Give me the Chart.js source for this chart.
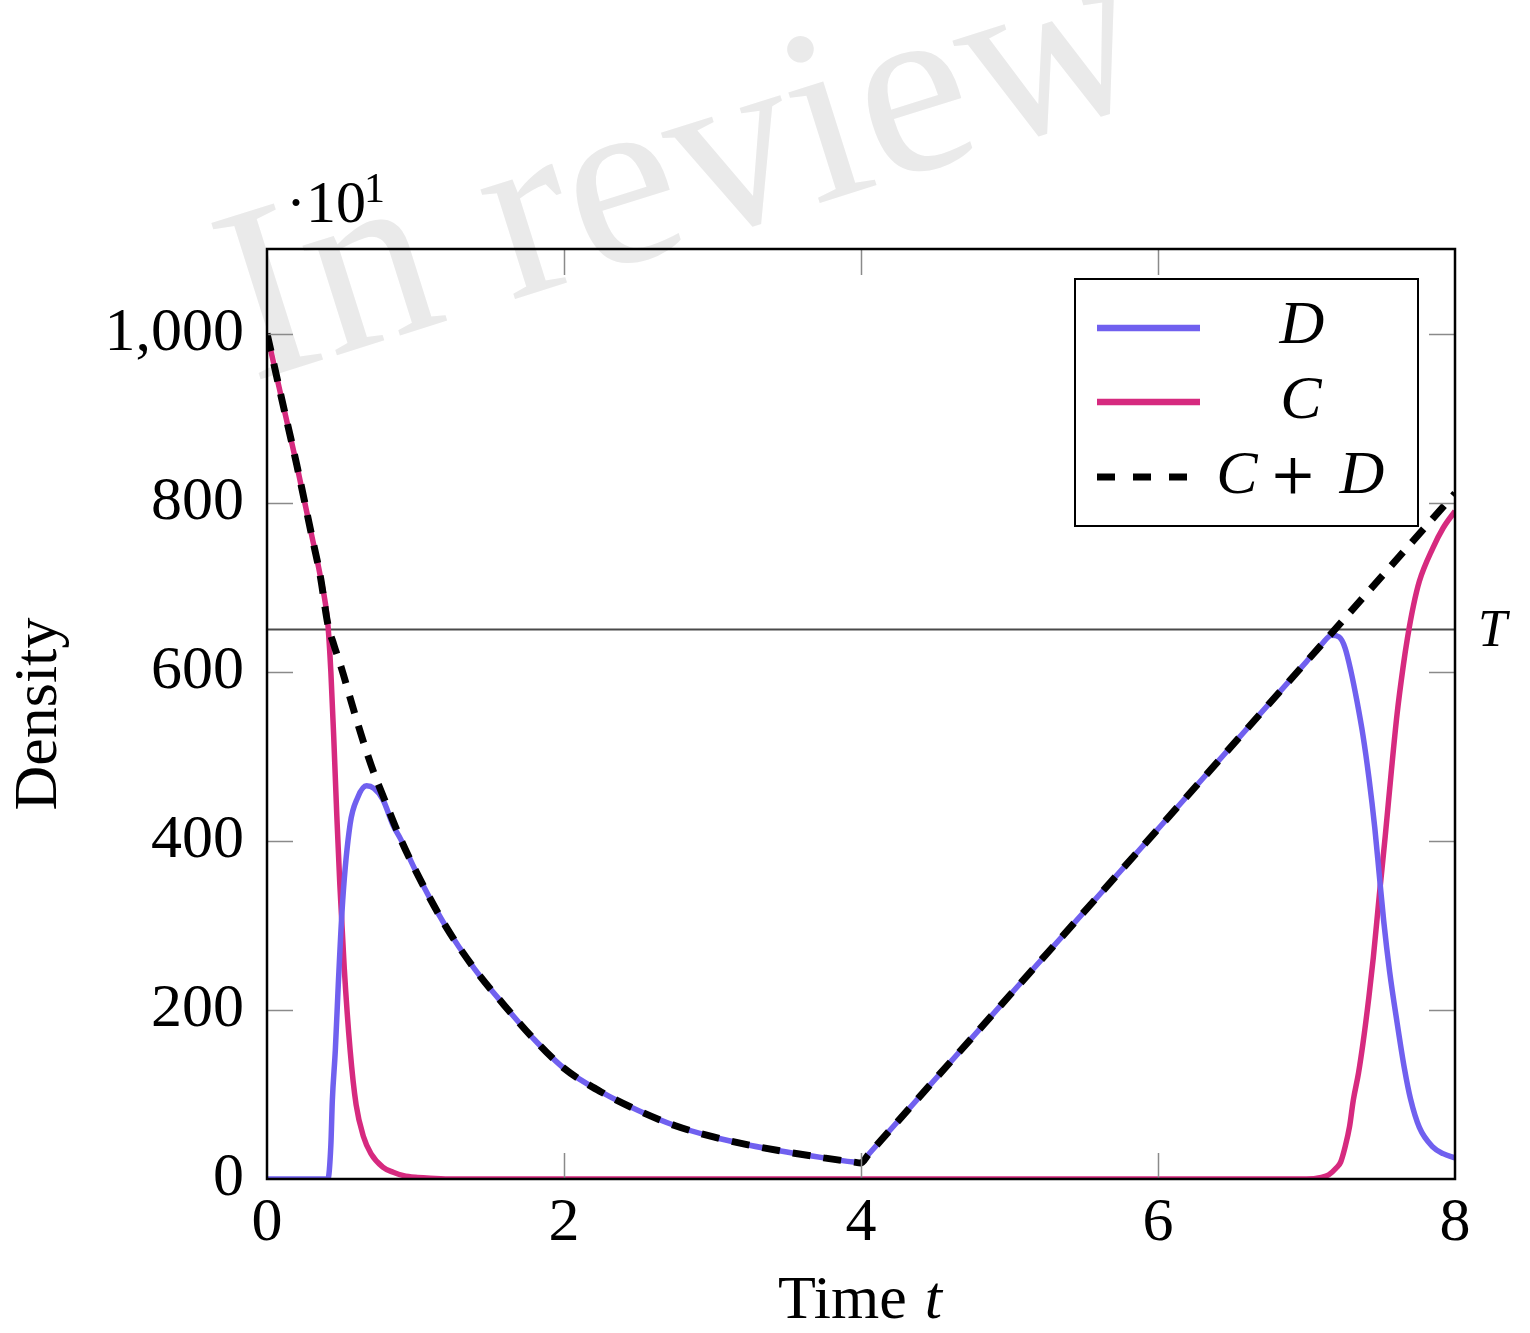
<!DOCTYPE html>
<html><head><meta charset="utf-8">
<script src="https://cdn.jsdelivr.net/npm/chart.js@4.4.1/dist/chart.umd.min.js"></script>
<style>html,body{margin:0;padding:0;background:#fff;}#wrap{width:1530px;height:1333px;}</style>
</head><body><div id="wrap"><canvas id="c" width="1530" height="1333"></canvas></div>
<script>
// ---- data ----
const xTicks = [0, 2, 4, 6, 8];
const yTicks = [0, 200, 400, 600, 800, 1000];
const thresholdT = 650;
const seriesNames = ['D', 'C', 'C + D'];

const tD = [0, 0.41, 0.43, 0.44, 0.46, 0.48, 0.51, 0.56, 0.61, 0.67, 0.72, 0.78, 0.85, 0.9, 1.0, 1.2, 1.4, 1.6, 1.8, 2.0, 2.25, 2.5, 2.75, 3.0, 3.25, 3.5, 3.75, 3.95, 4.0, 4.05, 5.0, 6.0, 7.0, 7.1, 7.17, 7.22, 7.26, 7.30, 7.34, 7.38, 7.42, 7.46, 7.49, 7.52, 7.56, 7.61, 7.66, 7.70, 7.76, 7.85, 7.92, 8.0];
const vD = [0, 0, 40, 93, 152, 230, 330, 420, 451, 465, 462, 449, 418, 402, 365, 300, 248, 205, 165, 131, 103, 81, 63, 50, 40, 32, 25, 20, 19, 29, 217, 414, 612, 632, 643, 641, 628, 600, 565, 525, 475, 415, 360, 305, 245, 185, 130, 95, 61, 38, 30, 25];

const tC = [0, 0.1, 0.2, 0.3, 0.36, 0.41, 0.43, 0.45, 0.47, 0.49, 0.52, 0.56, 0.6, 0.65, 0.7, 0.78, 0.85, 0.92, 1.0, 1.1, 1.25, 7.0, 7.1, 7.15, 7.2, 7.23, 7.26, 7.29, 7.315, 7.35, 7.38, 7.42, 7.45, 7.49, 7.53, 7.57, 7.61, 7.65, 7.68, 7.72, 7.76, 7.85, 7.92, 8.0];
const vC = [1000, 922, 845, 762, 712, 656, 600, 520, 430, 350, 250, 152, 88, 50, 30, 14, 8, 4, 2, 1, 0, 0, 2, 5, 13, 20, 38, 62, 93, 125, 160, 215, 262, 335, 405, 480, 550, 605, 640, 678, 707, 746, 770, 790];

const tSum = [0, 0.1, 0.2, 0.3, 0.36, 0.41, 0.45, 0.5, 0.6, 0.7, 0.8, 0.9, 1.0, 1.2, 1.4, 1.6, 1.8, 2.0, 2.25, 2.5, 2.75, 3.0, 3.25, 3.5, 3.75, 3.95, 4.0, 4.05, 5.0, 6.0, 7.0, 8.0];
const vSum = [1000, 922, 845, 762, 712, 656, 632, 605, 545, 490, 445, 402, 365, 300, 248, 205, 165, 131, 103, 81, 63, 50, 40, 32, 25, 20, 19, 29, 217, 414, 612, 811];

const watermark = 'In review';

// ---- styling ----
const BLUE = '#7060ef';
const PINK = '#d62a7f';
const SERIF = '"Liberation Serif", "DejaVu Serif", serif';

const pts = (t, v) => t.map((x, i) => ({x: x, y: v[i]}));

const deco = {
  id: 'deco',
  beforeDraw(chart) {
    const ctx = chart.ctx;
    ctx.save();
    ctx.fillStyle = '#fff';
    ctx.fillRect(0, 0, chart.width, chart.height);
    ctx.translate(252, 382);
    ctx.rotate(-17.5 * Math.PI / 180);
    ctx.font = '250px ' + SERIF;
    ctx.fillStyle = '#eaeaea';
    ctx.textBaseline = 'alphabetic';
    ctx.fillText(watermark, 0, 0);
    ctx.restore();
  },
  afterDatasetsDraw(chart) {
    const ctx = chart.ctx, a = chart.chartArea;
    const xs = chart.scales.x, ys = chart.scales.y;
    ctx.save();
    ctx.strokeStyle = '#8a8a8a';
    ctx.lineWidth = 1.5;
    const L = 26;
    xTicks.forEach(v => {
      if (v === xs.min || v === xs.max) return;
      const p = Math.round(xs.getPixelForValue(v)) + 0.5;
      ctx.beginPath();
      ctx.moveTo(p, a.bottom); ctx.lineTo(p, a.bottom - L);
      ctx.moveTo(p, a.top); ctx.lineTo(p, a.top + L);
      ctx.stroke();
    });
    yTicks.forEach(v => {
      if (v === ys.min || v === ys.max) return;
      const p = Math.round(ys.getPixelForValue(v)) + 0.5;
      ctx.beginPath();
      ctx.moveTo(a.left, p); ctx.lineTo(a.left + L, p);
      ctx.moveTo(a.right, p); ctx.lineTo(a.right - L, p);
      ctx.stroke();
    });
    ctx.strokeStyle = '#000';
    ctx.lineWidth = 2.5;
    ctx.strokeRect(a.left, a.top, a.right - a.left, a.bottom - a.top);
    ctx.restore();
  },
  afterDraw(chart) {
    const ctx = chart.ctx;
    const ys = chart.scales.y;
    ctx.save();
    ctx.fillStyle = '#000';
    ctx.textBaseline = 'alphabetic';
    // multiplier ·10^1
    ctx.font = '60px ' + SERIF;
    ctx.textAlign = 'left';
    ctx.fillText('\u00B710', 286, 222);
    ctx.font = '42px ' + SERIF;
    ctx.fillText('1', 364, 202);
    // y title
    ctx.save();
    ctx.translate(56, 714);
    ctx.rotate(-Math.PI / 2);
    ctx.font = '62px ' + SERIF;
    ctx.textAlign = 'center';
    ctx.fillText('Density', 0, 0);
    ctx.restore();
    // x title "Time t"
    ctx.font = '62px ' + SERIF;
    const w1 = ctx.measureText('Time').width;
    ctx.font = 'italic 62px ' + SERIF;
    const w2 = ctx.measureText('t').width;
    const gap = 18;
    const x0 = 860 - (w1 + gap + w2) / 2;
    ctx.font = '62px ' + SERIF;
    ctx.fillText('Time', x0, 1318);
    ctx.font = 'italic 62px ' + SERIF;
    ctx.fillText('t', x0 + w1 + gap, 1318);
    // T label
    ctx.font = 'italic 52px ' + SERIF;
    ctx.fillText('T', 1478, Math.round(ys.getPixelForValue(thresholdT)) + 17);
    // legend
    const lx = 1075, ly = 279, lw = 343, lh = 247;
    ctx.fillStyle = '#fff';
    ctx.fillRect(lx, ly, lw, lh);
    ctx.strokeStyle = '#000';
    ctx.lineWidth = 2;
    ctx.strokeRect(lx, ly, lw, lh);
    ctx.lineCap = 'butt';
    ctx.lineWidth = 6.5;
    ctx.strokeStyle = BLUE;
    ctx.beginPath(); ctx.moveTo(1097, 328); ctx.lineTo(1200, 328); ctx.stroke();
    ctx.strokeStyle = PINK;
    ctx.beginPath(); ctx.moveTo(1097, 402); ctx.lineTo(1200, 402); ctx.stroke();
    ctx.strokeStyle = '#000';
    ctx.lineWidth = 7;
    ctx.setLineDash([18, 18]);
    ctx.beginPath(); ctx.moveTo(1097, 477); ctx.lineTo(1188, 477); ctx.stroke();
    ctx.setLineDash([]);
    ctx.fillStyle = '#000';
    ctx.font = 'italic 62px ' + SERIF;
    ctx.textAlign = 'center';
    ctx.fillText(seriesNames[0], 1302, 343);
    ctx.fillText(seriesNames[1], 1301, 418);
    const parts = seriesNames[2].split(' ');
    ctx.fillText(parts[0], 1237, 493);
    ctx.font = '56px "DejaVu Serif", serif';
    ctx.fillText(parts[1], 1293, 493);
    ctx.font = 'italic 62px ' + SERIF;
    ctx.fillText(parts[2], 1362, 493);
    ctx.restore();
  }
};

new Chart(document.getElementById('c'), {
  type: 'line',
  data: {
    datasets: [
      {label: seriesNames[2], data: pts(tSum, vSum), borderColor: '#000', borderWidth: 7, borderDash: [18, 13], pointRadius: 0, cubicInterpolationMode: 'monotone', order: 0},
      {label: seriesNames[0], data: pts(tD, vD), borderColor: BLUE, borderWidth: 5.5, pointRadius: 0, cubicInterpolationMode: 'monotone', order: 1},
      {label: seriesNames[1], data: pts(tC, vC), borderColor: PINK, borderWidth: 5.5, pointRadius: 0, cubicInterpolationMode: 'monotone', order: 2},
      {label: 'T', data: [{x: 0, y: thresholdT}, {x: 8, y: thresholdT}], borderColor: '#4a4a4a', borderWidth: 2, pointRadius: 0, order: 3}
    ]
  },
  options: {
    responsive: false,
    animation: false,
    devicePixelRatio: 1,
    layout: {padding: {left: 0, top: 249, right: 75, bottom: 0}},
    plugins: {legend: {display: false}, tooltip: {enabled: false}, title: {display: false}},
    scales: {
      x: {
        type: 'linear', min: 0, max: 8,
        afterBuildTicks: s => { s.ticks = xTicks.map(v => ({value: v})); },
        afterFit: s => { s.height = 154; },
        grid: {display: false, drawTicks: false},
        border: {display: false},
        ticks: {color: '#000', padding: 8, font: {family: SERIF, size: 62}, maxRotation: 0, autoSkip: false,
                callback: v => String(v)}
      },
      y: {
        type: 'linear', min: 0, max: 1100,
        afterBuildTicks: s => { s.ticks = yTicks.map(v => ({value: v})); },
        afterFit: s => { s.width = 267; },
        grid: {display: false, drawTicks: false},
        border: {display: false},
        ticks: {color: '#000', padding: 23, font: {family: SERIF, size: 62}, autoSkip: false,
                callback: v => v.toLocaleString('en-US')}
      }
    }
  },
  plugins: [deco]
});
</script>
</body></html>
